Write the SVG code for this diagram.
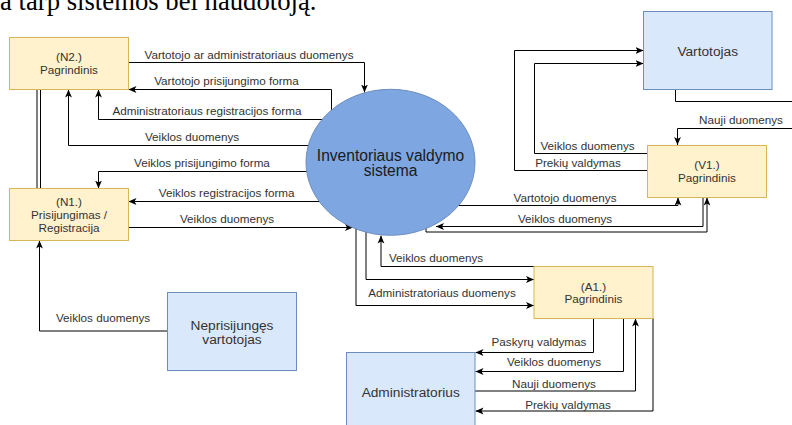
<svg xmlns="http://www.w3.org/2000/svg" width="792" height="425" viewBox="0 0 792 425">
<style>
.bg{fill:#ffffff}
.c{fill:none;stroke:#000;stroke-width:1}
.lbl{font-family:"Liberation Sans",Arial,Helvetica,sans-serif;font-size:11.7px;fill:#333;text-anchor:middle}
.yl{fill:#fff2cc;stroke:#d6b656;stroke-width:1}
.bl{fill:#dae8fc;stroke:#6c8ebf;stroke-width:1}
.yt{font-family:"Liberation Sans",Arial,Helvetica,sans-serif;font-size:11.7px;fill:#333;text-anchor:middle}
.bt{font-family:"Liberation Sans",Arial,Helvetica,sans-serif;font-size:13.7px;fill:#333;text-anchor:middle}
.ct{font-family:"Liberation Sans",Arial,Helvetica,sans-serif;font-size:15.6px;fill:#1a1a1a;text-anchor:middle}
.top{font-family:"Liberation Serif","Times New Roman",serif;font-size:26.7px;fill:#000}
</style>
<defs>
<marker id="arr" viewBox="0 0 8 8" refX="8" refY="4" markerWidth="8" markerHeight="8" markerUnits="userSpaceOnUse" orient="auto">
<path d="M0,0.6 L8,4 L0,7.4 L2,4 Z" fill="#000"/>
</marker>
</defs>
<rect class="bg" x="0" y="0" width="792" height="425"/>
<text class="top" x="0" y="9.5">a tarp sistemos bei naudotoją.</text>

<g id="connectors">
<path class="c" d="M128.5,62.5 H364.5 V92.5" marker-end="url(#arr)"/>
<text class="lbl" x="249" y="59">Vartotojo ar administratoriaus duomenys</text>
<path class="c" d="M331.5,119.5 V89.5 H128.5" marker-end="url(#arr)"/>
<text class="lbl" x="226.5" y="84.5">Vartotojo prisijungimo forma</text>
<path class="c" d="M324,119.5 H98.5 V89.5" marker-end="url(#arr)"/>
<text class="lbl" x="207" y="114.5">Administratoriaus registracijos forma</text>
<path class="c" d="M312,145.5 H68.5 V89.5" marker-end="url(#arr)"/>
<text class="lbl" x="192" y="140.5">Veiklos duomenys</text>
<path class="c" d="M312,171.5 H98.5 V188.5" marker-end="url(#arr)"/>
<text class="lbl" x="202" y="166.5">Veiklos prisijungimo forma</text>
<path class="c" d="M320,201.5 H128.5" marker-end="url(#arr)"/>
<text class="lbl" x="226.7" y="196.5">Veiklos registracijos forma</text>
<path class="c" d="M128.5,227.5 H353" marker-end="url(#arr)"/>
<text class="lbl" x="227" y="222.5">Veiklos duomenys</text>
<path class="c" d="M37,89.5 V188.5 M40.5,89.5 V188.5"/>
<path class="c" d="M167.5,331 H39.5 V240.5" marker-end="url(#arr)"/>
<text class="lbl" x="103" y="322">Veiklos duomenys</text>

<path class="c" d="M534,266.5 H381 V235.5" marker-end="url(#arr)"/>
<text class="lbl" x="436" y="261.5">Veiklos duomenys</text>
<path class="c" d="M366,228 V279.5 H534" marker-end="url(#arr)"/>
<path class="c" d="M356,226 V305.5 H534" marker-end="url(#arr)"/>
<text class="lbl" x="442" y="296.5">Administratoriaus duomenys</text>

<path class="c" d="M455,205.5 H678 V197.5" marker-end="url(#arr)"/>
<text class="lbl" x="565" y="201.5">Vartotojo duomenys</text>
<path class="c" d="M703,197.5 V226.5 H436" marker-end="url(#arr)"/>
<text class="lbl" x="565" y="223">Veiklos duomenys</text>
<path class="c" d="M426,224 V232 H707 V197.5" marker-end="url(#arr)"/>

<path class="c" d="M675.5,89.5 V101.5 H800 V128.5 H677.5 V145" marker-end="url(#arr)"/>
<text class="lbl" x="741" y="123.5">Nauji duomenys</text>
<path class="c" d="M647.5,153.5 H534.5 V63.5 H643.5" marker-end="url(#arr)"/>
<text class="lbl" x="587.5" y="150">Veiklos duomenys</text>
<path class="c" d="M647.5,170.5 H514.5 V50.5 H643.5" marker-end="url(#arr)"/>
<text class="lbl" x="578" y="167">Prekių valdymas</text>

<path class="c" d="M593.5,318 V352.5 H475.5" marker-end="url(#arr)"/>
<text class="lbl" x="539" y="346">Paskyrų valdymas</text>
<path class="c" d="M623.5,318 V371.5 H475.5" marker-end="url(#arr)"/>
<text class="lbl" x="554" y="366">Veiklos duomenys</text>
<path class="c" d="M475,391 H635.5 V318.5" marker-end="url(#arr)"/>
<text class="lbl" x="554" y="387.5">Nauji duomenys</text>
<path class="c" d="M653,318 V411 H475.5" marker-end="url(#arr)"/>
<text class="lbl" x="568" y="408.5">Prekių valdymas</text>
</g>

<g id="n2">
<rect class="yl" x="9.5" y="37.5" width="119" height="52"/>
<text class="yt" x="69" y="61">(N2.)</text>
<text class="yt" x="69" y="73.5">Pagrindinis</text>
</g>
<g id="n1">
<rect class="yl" x="9.5" y="188.5" width="119" height="52"/>
<text class="yt" x="69" y="205.5">(N1.)</text>
<text class="yt" x="69" y="218.5">Prisijungimas /</text>
<text class="yt" x="69" y="231.5">Registracija</text>
</g>
<g id="system">
<ellipse cx="390.5" cy="162.3" rx="84.5" ry="73" fill="#7ea6e0" stroke="#6c8ebf" stroke-width="1"/>
<text class="ct" x="390.5" y="160.5">Inventoriaus valdymo</text>
<text class="ct" x="390.5" y="176">sistema</text>
</g>
<g id="vartotojas">
<rect class="bl" x="643.5" y="11.5" width="128.5" height="78"/>
<text class="bt" x="707.7" y="55.5">Vartotojas</text>
</g>
<g id="v1">
<rect class="yl" x="647.5" y="145.5" width="119" height="52"/>
<text class="yt" x="707" y="169">(V1.)</text>
<text class="yt" x="707" y="181.5">Pagrindinis</text>
</g>
<g id="a1">
<rect class="yl" x="534" y="266.5" width="119" height="52"/>
<text class="yt" x="593.5" y="290.5">(A1.)</text>
<text class="yt" x="593.5" y="302.5">Pagrindinis</text>
</g>
<g id="administratorius">
<rect class="bl" x="346.5" y="352.5" width="128.5" height="78"/>
<text class="bt" x="410.7" y="396.5">Administratorius</text>
</g>
<g id="neprisijunges">
<rect class="bl" x="167.5" y="292.5" width="129" height="78"/>
<text class="bt" x="232" y="329.5">Neprisijungęs</text>
<text class="bt" x="232" y="343.5">vartotojas</text>
</g>
</svg>
